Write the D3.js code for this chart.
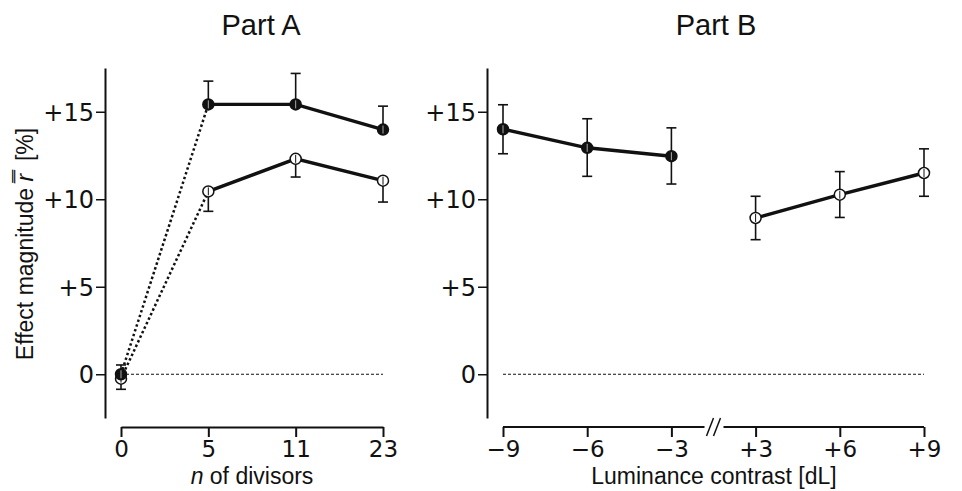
<!DOCTYPE html>
<html>
<head>
<meta charset="utf-8">
<script src="https://cdn.jsdelivr.net/npm/d3@7"></script>
<style>
  body { margin: 0; background: #fff; }
  text { font-family: "Liberation Sans", Arial, sans-serif; fill: #111; }
  .tick text { font-family: "DejaVu Sans", sans-serif; }
</style>
</head>
<body>
<svg id="chart" width="962" height="491"></svg>
<script>
// Part A: n of divisors
var catsA = ['0', '5', '11', '23'];
var darkA = [0.0, 15.42, 15.42, 13.98];
var darkAUp = [0.53, 16.75, 17.19, 15.32];
var openA = [-0.25, 10.45, 12.31, 11.06];
var openALo = [-0.86, 9.31, 11.27, 9.84];

// Part B: luminance contrast
var catsB = ['\u22129', '\u22126', '\u22123', '+3', '+6', '+9'];
var darkB = [14.0, 12.94, 12.46];
var darkBUp = [15.4, 14.6, 14.08];
var darkBLo = [12.6, 11.31, 10.87];
var openB = [8.93, 10.26, 11.5];
var openBUp = [10.17, 11.58, 12.88];
var openBLo = [7.69, 8.96, 10.17];

var yTicks = [0, 5, 10, 15];

var svg = d3.select('#chart');
var y = d3.scaleLinear().domain([-2.5, 17.5]).range([418, 68]);
var xA = d3.scalePoint().domain(catsA).range([121, 383]);
var xB = d3.scalePoint().domain(catsB).range([503, 924]);
var baseY = 427;

function yAxis(xPos) {
  var g = svg.append('g')
    .attr('transform', 'translate(' + xPos + ',0)')
    .call(d3.axisLeft(y).tickValues(yTicks).tickSize(9).tickSizeOuter(0)
      .tickFormat(function(d) { return d > 0 ? '+' + d : d; }));
  g.select('.domain').attr('stroke', '#111').attr('stroke-width', 2);
  g.selectAll('.tick line').attr('stroke', '#111').attr('stroke-width', 1.5);
  g.selectAll('.tick text').attr('font-size', 24).attr('x', -11).attr('dy', '0.36em').style('fill', '#111');
}

function xAxis(scale) {
  var g = svg.append('g')
    .attr('transform', 'translate(0,' + baseY + ')')
    .call(d3.axisBottom(scale).tickSize(10).tickSizeOuter(0));
  g.select('.domain').attr('stroke', '#111').attr('stroke-width', 2);
  g.selectAll('.tick line').attr('stroke', '#111').attr('stroke-width', 2);
  g.selectAll('.tick text').attr('font-size', 23).attr('y', 14).style('fill', '#111');
  return g;
}

yAxis(105);
yAxis(487);
xAxis(xA);
var gB = xAxis(xB);

// axis break between -3 and +3
var brk = (xB('\u22123') + xB('+3')) / 2;
gB.select('.domain').remove();
gB.append('line').attr('x1', xB(catsB[0])).attr('x2', brk - 9).attr('y1', 0).attr('y2', 0)
  .attr('stroke', '#111').attr('stroke-width', 2);
gB.append('line').attr('x1', brk + 10).attr('x2', xB(catsB[5])).attr('y1', 0).attr('y2', 0)
  .attr('stroke', '#111').attr('stroke-width', 2);
[-3.5, 3.5].forEach(function(o) {
  gB.append('line').attr('x1', brk + o - 3.5).attr('y1', 9).attr('x2', brk + o + 3.5).attr('y2', -9)
    .attr('stroke', '#111').attr('stroke-width', 1.5);
});

// zero reference lines
[[xA, catsA], [xB, catsB]].forEach(function(p) {
  svg.append('line')
    .attr('x1', p[0](p[1][0])).attr('x2', p[0](p[1][p[1].length - 1]))
    .attr('y1', y(0)).attr('y2', y(0))
    .attr('stroke', '#111').attr('stroke-width', 1).attr('stroke-dasharray', '3,2');
});

var line = d3.line().x(function(d) { return d[0]; }).y(function(d) { return y(d[1]); });

function pts(scale, cats, vals) {
  return vals.map(function(v, i) { return [scale(cats[i]), v]; });
}

// dotted connectors from 0 to 5 in Part A
[darkA, openA].forEach(function(s) {
  svg.append('path').datum(pts(xA, catsA, s).slice(0, 2)).attr('d', line)
    .attr('fill', 'none').attr('stroke', '#111').attr('stroke-width', 2.5).attr('stroke-dasharray', '2.5,2.5');
});
// solid segments
var solid = [
  pts(xA, catsA, darkA).slice(1),
  pts(xA, catsA, openA).slice(1),
  pts(xB, catsB, darkB),
  pts(xB, catsB.slice(3), openB)
];
solid.forEach(function(s) {
  svg.append('path').datum(s).attr('d', line)
    .attr('fill', 'none').attr('stroke', '#111').attr('stroke-width', 3.4);
});

function whisker(g, x, from, to, cap) {
  g.append('line').attr('x1', x).attr('x2', x).attr('y1', y(from)).attr('y2', y(to))
    .attr('stroke', '#111').attr('stroke-width', 1.6);
  g.append('line').attr('x1', x - 5).attr('x2', x + 5).attr('y1', y(cap)).attr('y2', y(cap))
    .attr('stroke', '#111').attr('stroke-width', 1.6);
}

// Part A: dark series shows upper whisker only, open series lower whisker only
var gA = svg.append('g');
catsA.forEach(function(c, i) {
  whisker(gA, xA(c), darkA[i], darkAUp[i], darkAUp[i]);
  whisker(gA, xA(c), openA[i], openALo[i], openALo[i]);
});
// Part B: full bars
var gEB = svg.append('g');
catsB.slice(0, 3).forEach(function(c, i) {
  whisker(gEB, xB(c), darkBLo[i], darkBUp[i], darkBUp[i]);
  whisker(gEB, xB(c), darkBLo[i], darkBLo[i], darkBLo[i]);
});
catsB.slice(3).forEach(function(c, i) {
  whisker(gEB, xB(c), openBLo[i], openBUp[i], openBUp[i]);
  whisker(gEB, xB(c), openBLo[i], openBLo[i], openBLo[i]);
});

function markers(data, dark) {
  var g = svg.append('g').selectAll('g').data(data).enter().append('g')
    .attr('transform', function(d) { return 'translate(' + d[0] + ',' + y(d[1]) + ')'; });
  g.append('circle').attr('r', 5.5)
    .attr('fill', dark ? '#111' : '#fff')
    .attr('stroke', '#111').attr('stroke-width', 1.5);
  g.append('line').attr('x1', 0).attr('x2', 0).attr('y1', -4).attr('y2', 4)
    .attr('stroke', dark ? '#aaa' : '#111').attr('stroke-width', 1);
}
markers(pts(xA, catsA, openA), false);
markers(pts(xA, catsA, darkA), true);
markers(pts(xB, catsB, darkB), true);
markers(pts(xB, catsB.slice(3), openB), false);

// titles
svg.append('text').attr('x', 261).attr('y', 35).attr('text-anchor', 'middle')
  .attr('font-size', 29).text('Part A');
svg.append('text').attr('x', 716).attr('y', 35).attr('text-anchor', 'middle')
  .attr('font-size', 29).text('Part B');

// x labels
var lA = svg.append('text').attr('x', 252).attr('y', 484).attr('text-anchor', 'middle').attr('font-size', 23);
lA.append('tspan').attr('font-style', 'italic').text('n');
lA.append('tspan').text(' of divisors');
svg.append('text').attr('x', 714).attr('y', 484).attr('text-anchor', 'middle').attr('font-size', 23)
  .text('Luminance contrast [dL]');

// y label
var yl = svg.append('text').attr('transform', 'translate(33,244) rotate(-90)')
  .attr('text-anchor', 'middle').attr('font-size', 23);
yl.append('tspan').text('Effect magnitude ');
yl.append('tspan').attr('font-style', 'italic').text('r\u033F');
yl.append('tspan').text('\u00a0\u00a0[%]');
</script>
</body>
</html>
